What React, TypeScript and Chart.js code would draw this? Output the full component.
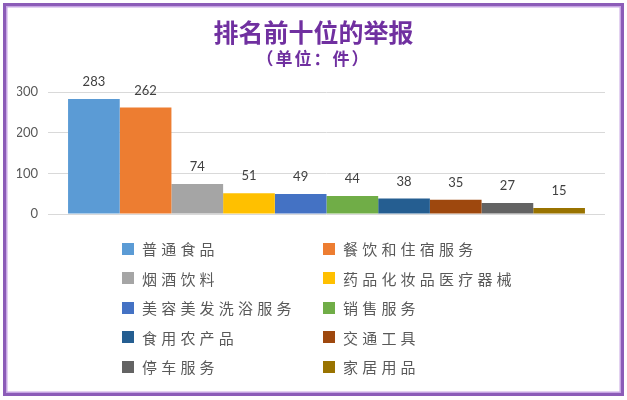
import React, { useEffect, useRef } from "react";
import { Chart, registerables, Plugin } from "chart.js";

Chart.register(...registerables);

const categories = [
  "普通食品",
  "餐饮和住宿服务",
  "烟酒饮料",
  "药品化妆品医疗器械",
  "美容美发洗浴服务",
  "销售服务",
  "食用农产品",
  "交通工具",
  "停车服务",
  "家居用品",
];
const counts = [283, 262, 74, 51, 49, 44, 38, 35, 27, 15];
const colors = [
  "#5B9BD5",
  "#ED7D31",
  "#A5A5A5",
  "#FFC000",
  "#4472C4",
  "#70AD47",
  "#255E91",
  "#9E480E",
  "#636363",
  "#997300",
];
const yTicks = [0, 100, 200, 300];

const valueLabels: Plugin<"bar"> = {
  id: "valueLabels",
  afterDatasetsDraw(chart) {
    const { ctx } = chart;
    ctx.save();
    ctx.font = "13px Lato";
    ctx.fillStyle = "#404040";
    ctx.textAlign = "center";
    ctx.textBaseline = "middle";
    chart.data.datasets.forEach((ds, i) => {
      const bar = chart.getDatasetMeta(i).data[0];
      if (!bar) return;
      ctx.fillText(String(ds.data[0]), bar.x, bar.y - 17);
    });
    ctx.restore();
  },
};

const App: React.FC = () => {
  const canvasRef = useRef<HTMLCanvasElement | null>(null);

  useEffect(() => {
    const ctx = canvasRef.current?.getContext("2d");
    if (!ctx) return;
    const chart = new Chart(ctx, {
      type: "bar",
      data: {
        labels: [""],
        datasets: categories.map((name, i) => ({
          label: name,
          data: [counts[i]],
          backgroundColor: colors[i],
          borderWidth: 0,
          categoryPercentage: 0.928,
          barPercentage: 1,
        })),
      },
      options: {
        animation: false,
        responsive: false,
        layout: { padding: { left: 17, right: 22, top: 92, bottom: 186 } },
        plugins: {
          legend: { display: false },
          tooltip: { enabled: false },
        },
        scales: {
          x: { display: false },
          y: {
            min: 0,
            max: 300,
            afterBuildTicks(axis) {
              axis.ticks = yTicks.map((v) => ({ value: v }));
            },
            afterFit(axis) {
              axis.width = 31;
            },
            border: { display: false },
            grid: { color: "#D9D9D9", lineWidth: 1, drawTicks: false },
            ticks: {
              padding: 10,
              color: "#595959",
              font: { family: "Lato", size: 13 },
            },
          },
        },
      },
      plugins: [valueLabels],
    });
    return () => chart.destroy();
  }, []);

  return (
    <div
      style={{
        position: "absolute",
        left: 0,
        top: 0,
        width: 627,
        height: 400,
        background: "#fff",
        overflow: "hidden",
      }}
    >
      <canvas
        ref={canvasRef}
        width={627}
        height={400}
        style={{ position: "absolute", left: 0, top: 0, width: 627, height: 400 }}
      />
      <div
        style={{
          position: "absolute",
          left: 3,
          top: 3,
          width: 621,
          height: 393,
          boxSizing: "border-box",
          border: "3px solid #8C5CB8",
          boxShadow: "inset 0 0 0 1.5px #C7A6E4",
          pointerEvents: "none",
        }}
      />
      <div
        style={{
          position: "absolute",
          left: 0,
          width: 627,
          top: 15,
          textAlign: "center",
          color: "#7030A0",
          fontFamily: "'Noto Sans CJK SC'",
          fontWeight: 700,
          fontSize: 25,
          lineHeight: "32px",
        }}
      >
        排名前十位的举报
      </div>
      <div
        style={{
          position: "absolute",
          left: 0,
          width: 627,
          top: 47,
          textAlign: "center",
          color: "#7030A0",
          fontFamily: "'Noto Sans CJK SC'",
          fontWeight: 700,
          fontSize: 17,
          letterSpacing: 2,
          lineHeight: "22px",
        }}
      >
        （单位：件）
      </div>
      {categories.map((name, i) => {
        const col = i % 2;
        const row = Math.floor(i / 2);
        return (
          <div
            key={name}
            style={{
              position: "absolute",
              left: col === 0 ? 122 : 323,
              top: 248.5 + row * 29.5 - 11,
              height: 22,
              display: "flex",
              alignItems: "center",
              fontFamily: "'Noto Sans CJK SC'",
              fontSize: 15,
              letterSpacing: 4.2,
              color: "#595959",
              whiteSpace: "nowrap",
            }}
          >
            <span
              style={{
                display: "inline-block",
                width: 12,
                height: 12,
                background: colors[i],
                marginRight: 8,
              }}
            />
            {name}
          </div>
        );
      })}
    </div>
  );
};

export default App;
